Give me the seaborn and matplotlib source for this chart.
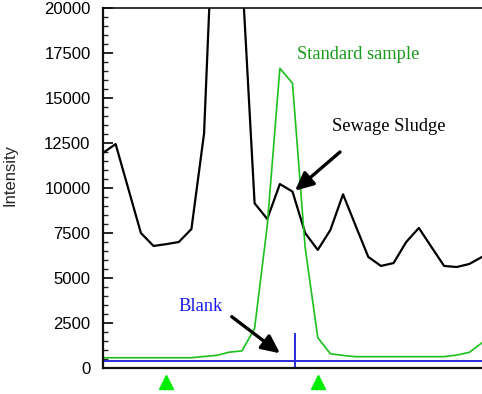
import matplotlib
matplotlib.use("Agg")
import matplotlib.pyplot as plt
import matplotlib.transforms as mtransforms
import seaborn as sns
import pandas as pd
from matplotlib.ticker import MultipleLocator

# ---------------- data ----------------
scan_index = list(range(31))
sewage_sludge = [11950, 12440, 9970, 7500, 6780, 6880, 7000, 7720, 13040, 30000,
                 38000, 22000, 9150, 8280, 10220, 9800, 7500, 6560, 7670, 9650,
                 7900, 6170, 5670, 5830, 7000, 7780, 6720, 5670, 5610, 5780, 6170]
standard_sample = [570, 570, 570, 570, 570, 570, 570, 570, 640, 700,
                   880, 950, 2200, 7900, 16650, 15820, 6700, 1690, 790, 700,
                   630, 630, 630, 630, 630, 630, 630, 630, 720, 870, 1400]
blank_level = 400
blank_marker_x = 15.2
blank_marker_top = 1930
triangle_x = [5, 17]
y_ticks = [0, 2500, 5000, 7500, 10000, 12500, 15000, 17500, 20000]

df = pd.DataFrame({
    "scan": scan_index * 2,
    "intensity": sewage_sludge + standard_sample,
    "series": ["Sewage Sludge"] * len(scan_index) + ["Standard sample"] * len(scan_index),
})

# ---------------- style ----------------
sns.set_style("white")
plt.rcParams["font.family"] = ["Liberation Sans", "DejaVu Sans"]

fig = plt.figure(figsize=(4.82, 3.94), dpi=100)
ax = fig.add_axes([103 / 482, 1 - 368 / 394, 1 - 103 / 482, 360 / 394])

palette = {"Sewage Sludge": "#000000", "Standard sample": "#1cc01c"}
sns.lineplot(data=df, x="scan", y="intensity", hue="series", palette=palette,
             ax=ax, legend=False, estimator=None)
lines = ax.get_lines()
lines[0].set_linewidth(1.6)
lines[1].set_linewidth(1.2)

ax.axhline(blank_level, color="#2a2ad8", lw=1.4)
ax.vlines(blank_marker_x, 0, blank_marker_top, color="#2a2ad8", lw=1.4)

trans = mtransforms.blended_transform_factory(ax.transData, ax.transAxes)
ax.plot(triangle_x, [-0.039] * len(triangle_x), linestyle="none", marker="^",
        markersize=10, color="#00ee00", transform=trans, clip_on=False)

ax.set_xlim(0, 30)
ax.set_ylim(0, 20000)
ax.set_yticks(y_ticks)
ax.set_yticklabels([str(t) for t in y_ticks])
ax.yaxis.set_minor_locator(MultipleLocator(500))
ax.set_xticks([])
ax.tick_params(axis="y", which="major", direction="in", length=7.5, width=1.2,
               labelsize=12, pad=9, left=True, colors="black")
ax.tick_params(axis="y", which="minor", direction="in", length=3.8, width=1.0, left=True)
ax.set_xlabel("")
ax.set_ylabel("Intensity", fontsize=12)
ax.yaxis.set_label_coords(-0.2265, 0.535)

for side in ["left", "bottom", "top"]:
    ax.spines[side].set_visible(True)
    ax.spines[side].set_color("#111111")
ax.spines["left"].set_linewidth(1.6)
ax.spines["bottom"].set_linewidth(1.6)
ax.spines["top"].set_linewidth(1.2)
ax.spines["right"].set_visible(False)

serif = ["Liberation Serif", "DejaVu Serif"]
arrow = dict(arrowstyle="-|>,head_length=0.55,head_width=0.26",
             mutation_scale=20, lw=2.4, color="black", shrinkA=0, shrinkB=0)

ax.text(20.19, 17390, "Standard sample", color="#1a9a1a", fontsize=13.3,
        family=serif, ha="center", va="center")
ax.text(22.62, 13390, "Sewage Sludge", color="black", fontsize=13.3,
        family=serif, ha="center", va="center")
ax.text(7.72, 3440, "Blank", color="#1a1aee", fontsize=13.3,
        family=serif, ha="center", va="center")
ax.annotate("", xy=(15.2, 9850), xytext=(18.76, 12000), arrowprops=arrow)
ax.annotate("", xy=(14.01, 817), xytext=(10.19, 2850), arrowprops=arrow)

fig.savefig("out.png", dpi=100)
